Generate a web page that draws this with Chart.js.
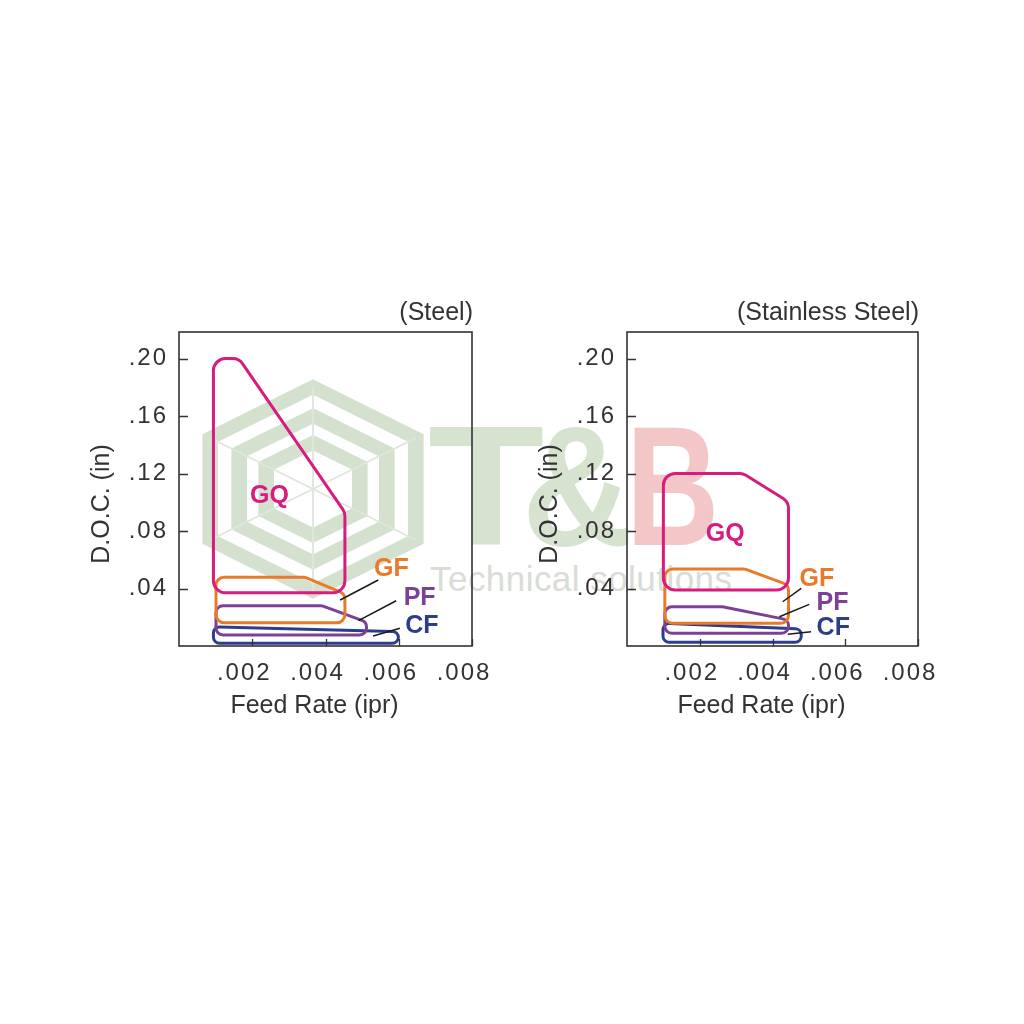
<!DOCTYPE html>
<html><head><meta charset="utf-8">
<script src="https://cdn.jsdelivr.net/npm/chart.js@4.4.0/dist/chart.umd.min.js"></script>
<style>
html,body{margin:0;padding:0;background:#fff;}
#stage{position:relative;width:1024px;height:1024px;overflow:hidden;background:#fff;}
#wm{position:absolute;left:0;top:0;}
canvas{position:absolute;}
#c1{left:60px;top:280px;}
#c2{left:505px;top:280px;}
</style></head><body>
<div id="stage">
<svg id="wm" width="1024" height="1024" xmlns="http://www.w3.org/2000/svg">
  <g transform="translate(313,489) scale(1.2,1.03)">
    <g fill="none" stroke="#d4e1ce" stroke-width="13">
      <polygon points="0,-99 85.7,-49.5 85.7,49.5 0,99 -85.7,49.5 -85.7,-49.5"/>
      <polygon points="0,-71 61.5,-35.5 61.5,35.5 0,71 -61.5,35.5 -61.5,-35.5"/>
      <polygon points="0,-45 39,-22.5 39,22.5 0,45 -39,22.5 -39,-22.5"/>
    </g>
    <g stroke="#e0e6dd" stroke-width="1.6">
      <line x1="0" y1="0" x2="0" y2="-99"/><line x1="0" y1="0" x2="0" y2="99"/>
      <line x1="0" y1="0" x2="85.7" y2="-49.5"/><line x1="0" y1="0" x2="-85.7" y2="-49.5"/>
      <line x1="0" y1="0" x2="85.7" y2="49.5"/><line x1="0" y1="0" x2="-85.7" y2="49.5"/>
    </g>
  </g>
  <g font-family="Liberation Sans, Arial, sans-serif" font-weight="bold" font-size="170">
    <text x="0" y="0" fill="#d6e4cf" transform="translate(428,545) scale(1.12,1)">T</text>
    <text x="0" y="0" fill="#d6e4cf" transform="translate(522,545) scale(0.9,1)">&amp;</text>
    <text x="0" y="0" fill="#f3c6c8" transform="translate(626,545) scale(0.76,1)">B</text>
  </g>
  <text x="430" y="591" font-family="Liberation Sans, Arial, sans-serif" font-size="35" fill="#d8ddd5" textLength="302">Technical solutions</text>
</svg>
<canvas id="c1" width="480" height="460"></canvas>
<canvas id="c2" width="460" height="460"></canvas>
</div>
<script>
// ---- axis ticks ----
const xTickValues = [0.002, 0.004, 0.006, 0.008];
const xTickLabels = ['.002', '.004', '.006', '.008'];
const yTickValues = [0.04, 0.08, 0.12, 0.16, 0.20];
const yTickLabels = ['.04', '.08', '.12', '.16', '.20'];

// ---- grades ----
const grades = ['GQ', 'GF', 'PF', 'CF'];
const gradeColors = ['#d81b7e', '#e97a2a', '#7c4196', '#2d3d8e'];
const cornerRadii = [12, 8, 7, 6];

// ---- Steel regions (feed rate ipr, depth of cut in) ----
const steelGQ = [[0.00094, 0.200], [0.00164, 0.200], [0.00453, 0.093], [0.00453, 0.037], [0.00094, 0.037]];
const steelGF = [[0.00101, 0.0478], [0.00344, 0.0478], [0.00453, 0.0362], [0.00453, 0.0162], [0.00101, 0.0162]];
const steelPF = [[0.00101, 0.0280], [0.00390, 0.0280], [0.00512, 0.0167], [0.00512, 0.0077], [0.00101, 0.0077]];
const steelCF = [[0.00094, 0.0134], [0.00599, 0.0100], [0.00599, 0.0019], [0.00094, 0.0019]];

// ---- Stainless Steel regions ----
const stainlessGQ = [[0.00100, 0.1201], [0.00319, 0.1201], [0.00444, 0.1004], [0.00444, 0.0390], [0.00100, 0.0390]];
const stainlessGF = [[0.00104, 0.0536], [0.00323, 0.0536], [0.00444, 0.0424], [0.00444, 0.0158], [0.00104, 0.0158]];
const stainlessPF = [[0.00104, 0.0273], [0.00264, 0.0273], [0.00444, 0.0181], [0.00444, 0.0088], [0.00104, 0.0088]];
const stainlessCF = [[0.00099, 0.0158], [0.00479, 0.0118], [0.00479, 0.0026], [0.00099, 0.0026]];

// ---- grade label positions [x, y] ----
const steelLabelPos = [[0.00247, 0.1056], [0.00580, 0.0550], [0.00657, 0.0348], [0.00663, 0.0153]];
const stainlessLabelPos = [[0.00270, 0.0795], [0.00522, 0.0477], [0.00565, 0.0311], [0.00567, 0.0139]];

// ---- leader lines [x1, y1, x2, y2] for GF, PF, CF ----
const steelLeaders = [[0.00544, 0.0459, 0.00440, 0.0320], [0.00593, 0.0315, 0.00490, 0.0176], [0.00603, 0.0123, 0.00530, 0.0070]];
const stainlessLeaders = [[0.00479, 0.0401, 0.00428, 0.0308], [0.00501, 0.0290, 0.00419, 0.0204], [0.00506, 0.0099, 0.00442, 0.0081]];

const FONT = '"Liberation Sans", Arial, Helvetica, sans-serif';
const TEXT = '#333333';

const tickSpacing = {
  id: 'tickSpacing',
  beforeDraw(chart) { chart.ctx.letterSpacing = '2px'; },
  beforeDatasetsDraw(chart) { chart.ctx.letterSpacing = '0px'; }
};

const roundedShapes = {
  id: 'roundedShapes',
  beforeDatasetDraw(chart, args) {
    const ds = chart.data.datasets[args.index];
    const pts = args.meta.data.map(p => ({x: p.x, y: p.y}));
    const n = pts.length;
    const r = ds.cornerRadius || 0;
    const ctx = chart.ctx;
    ctx.save();
    ctx.beginPath();
    const last = pts[n - 1], first = pts[0];
    ctx.moveTo((last.x + first.x) / 2, (last.y + first.y) / 2);
    for (let i = 0; i < n; i++) {
      const a = pts[i], b = pts[(i + 1) % n];
      ctx.arcTo(a.x, a.y, b.x, b.y, r);
    }
    ctx.closePath();
    ctx.lineWidth = ds.borderWidth;
    ctx.strokeStyle = ds.borderColor;
    ctx.lineJoin = 'round';
    ctx.stroke();
    ctx.restore();
    return false;
  }
};

const decor = {
  id: 'decor',
  afterDraw(chart, args, opts) {
    const ctx = chart.ctx;
    const a = chart.chartArea;
    const xs = chart.scales.x, ys = chart.scales.y;
    ctx.save();
    ctx.letterSpacing = '0px';
    // frame
    ctx.strokeStyle = '#333';
    ctx.lineWidth = 1.6;
    ctx.strokeRect(a.left, a.top, a.right - a.left, a.bottom - a.top);
    // inward tick marks
    ctx.lineWidth = 1.3;
    ctx.beginPath();
    yTickValues.forEach(v => {
      const py = Math.round(ys.getPixelForValue(v)) + 0.5;
      ctx.moveTo(a.left, py); ctx.lineTo(a.left + 9, py);
    });
    xTickValues.forEach(v => {
      const px = Math.round(xs.getPixelForValue(v)) + 0.5;
      ctx.moveTo(px, a.bottom); ctx.lineTo(px, a.bottom - 7);
    });
    ctx.stroke();
    // chart title
    ctx.fillStyle = TEXT;
    ctx.font = '25px ' + FONT;
    ctx.textAlign = 'right';
    ctx.textBaseline = 'alphabetic';
    ctx.fillText(opts.title, a.right + 1, a.top - 12);
    // x axis title
    ctx.textAlign = 'center';
    ctx.fillText('Feed Rate (ipr)', (a.left + a.right) / 2 - 11, a.bottom + 67);
    // y axis title
    ctx.save();
    ctx.translate(a.left - 70, (a.top + a.bottom) / 2 + 15);
    ctx.rotate(-Math.PI / 2);
    ctx.fillText('D.O.C. (in)', 0, 0);
    ctx.restore();
    // leader lines
    ctx.strokeStyle = '#1a1a1a';
    ctx.lineWidth = 1.5;
    ctx.beginPath();
    opts.leaders.forEach(l => {
      ctx.moveTo(xs.getPixelForValue(l[0]), ys.getPixelForValue(l[1]));
      ctx.lineTo(xs.getPixelForValue(l[2]), ys.getPixelForValue(l[3]));
    });
    ctx.stroke();
    // grade labels
    ctx.font = 'bold 25px ' + FONT;
    ctx.textAlign = 'center';
    grades.forEach((g, i) => {
      const p = opts.labels[i];
      ctx.fillStyle = gradeColors[i];
      ctx.fillText(g, xs.getPixelForValue(p[0]), ys.getPixelForValue(p[1]) + 9);
    });
    ctx.restore();
  }
};

function toXY(arr) { return arr.map(p => ({x: p[0], y: p[1]})); }

function makeChart(id, title, shapes, labels, leaders, yAxisWidth, padRight) {
  const datasets = shapes.map((s, i) => ({
    label: grades[i],
    data: toXY(s),
    borderColor: gradeColors[i],
    backgroundColor: gradeColors[i],
    borderWidth: 3,
    pointRadius: 0,
    showLine: true,
    cornerRadius: cornerRadii[i]
  }));
  return new Chart(document.getElementById(id), {
    type: 'scatter',
    data: {datasets},
    options: {
      responsive: false,
      animation: false,
      devicePixelRatio: 1,
      layout: {padding: {left: 0, top: 52, right: padRight, bottom: 0}},
      plugins: {
        legend: {display: false},
        title: {display: false},
        tooltip: {enabled: false},
        decor: {title, labels, leaders}
      },
      scales: {
        x: {
          type: 'linear', min: 0, max: 0.008,
          afterBuildTicks: s => { s.ticks = xTickValues.map(v => ({value: v})); },
          afterFit: s => { s.height = 94; },
          grid: {display: false, drawTicks: false},
          border: {display: false},
          ticks: {
            callback: (v, i) => xTickLabels[i],
            font: {family: FONT, size: 24},
            color: TEXT, padding: 13, labelOffset: -8,
            maxRotation: 0, autoSkip: false
          }
        },
        y: {
          type: 'linear', min: 0, max: 0.2185,
          afterBuildTicks: s => { s.ticks = yTickValues.map(v => ({value: v})); },
          afterFit: s => { s.width = yAxisWidth; },
          grid: {display: false, drawTicks: false},
          border: {display: false},
          ticks: {
            callback: (v, i) => yTickLabels[i],
            font: {family: FONT, size: 24},
            color: TEXT, padding: 11, autoSkip: false
          }
        }
      }
    },
    plugins: [tickSpacing, roundedShapes, decor]
  });
}

makeChart('c1', '(Steel)', [steelGQ, steelGF, steelPF, steelCF], steelLabelPos, steelLeaders, 119, 68);
makeChart('c2', '(Stainless Steel)', [stainlessGQ, stainlessGF, stainlessPF, stainlessCF], stainlessLabelPos, stainlessLeaders, 122, 47);
</script>
</body></html>
